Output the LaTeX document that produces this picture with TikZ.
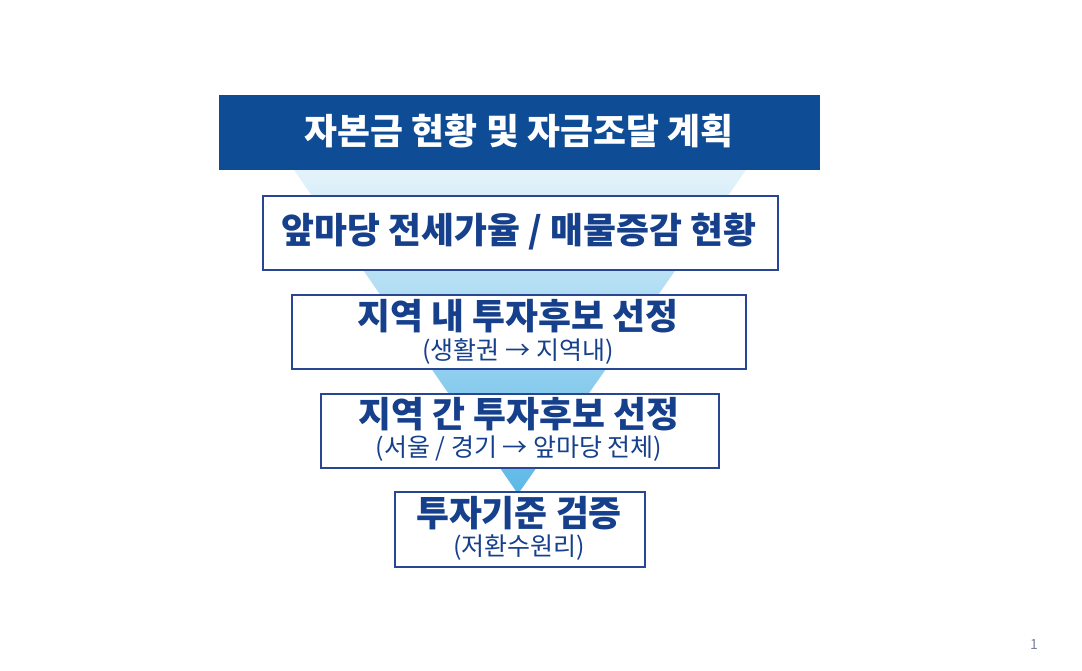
\documentclass[tikz,border=0pt]{standalone}
\usepackage{fontspec}
\newfontfamily\kr{Noto Sans CJK KR}
\definecolor{banner}{RGB}{15,76,150}
\definecolor{navy}{RGB}{22,64,140}
\definecolor{boxline}{RGB}{40,70,145}
\definecolor{funtop}{RGB}{228,243,251}
\definecolor{funbot}{RGB}{92,184,230}
\definecolor{pgnum}{RGB}{120,130,150}
\tikzset{
  stagebox/.style={draw=boxline, line width=1.6pt, fill=white, inner sep=0pt, anchor=north west},
  titletext/.style={font=\kr\bfseries\fontsize{35.8}{40}\selectfont, text=navy, inner sep=0pt},
  subtext/.style={font=\kr\fontsize{25}{28}\selectfont, text=navy, inner sep=0pt},
}
\begin{document}
\begin{tikzpicture}[x=1pt,y=-1pt]
\useasboundingbox (0,0) rectangle (1082,671);
% funnel
\shade[top color=funtop, bottom color=funbot] (294,170) -- (746,170) -- (518,494) -- cycle;
% banner
\node[fill=banner, minimum width=601pt, minimum height=75pt, inner sep=0pt, anchor=north west] (banner) at (219,95) {};
\node[font=\kr\bfseries\fontsize{35.8}{40}\selectfont, text=white, inner sep=0pt] (bannertxt) at (519,131) {자본금 현황 및 자금조달 계획};
% boxes
\node[stagebox, minimum width=515pt, minimum height=74pt] (b1) at (262,195) {};
\node[titletext] (t1) at (519,232) {앞마당 전세가율 / 매물증감 현황};

\node[stagebox, minimum width=454pt, minimum height=74pt] (b2) at (291,294) {};
\node[titletext] (t2) at (518,316) {지역 내 투자후보 선정};
\node[subtext] (s2) at (518,352) {(생활권 → 지역내)};

\node[stagebox, minimum width=398pt, minimum height=74pt] (b3) at (320,393) {};
\node[titletext] (t3) at (519,414) {지역 간 투자후보 선정};
\node[subtext] (s3) at (519,449) {(서울 / 경기 → 앞마당 전체)};

\node[stagebox, minimum width=250pt, minimum height=75pt] (b4) at (394,491) {};
\node[titletext] (t4) at (519,513) {투자기준 검증};
\node[subtext] (s4) at (519,548) {(저환수원리)};

\node[font=\kr\fontsize{14}{16}\selectfont, text=pgnum, inner sep=0pt] (pg) at (1034,645) {1};
\end{tikzpicture}
\end{document}
